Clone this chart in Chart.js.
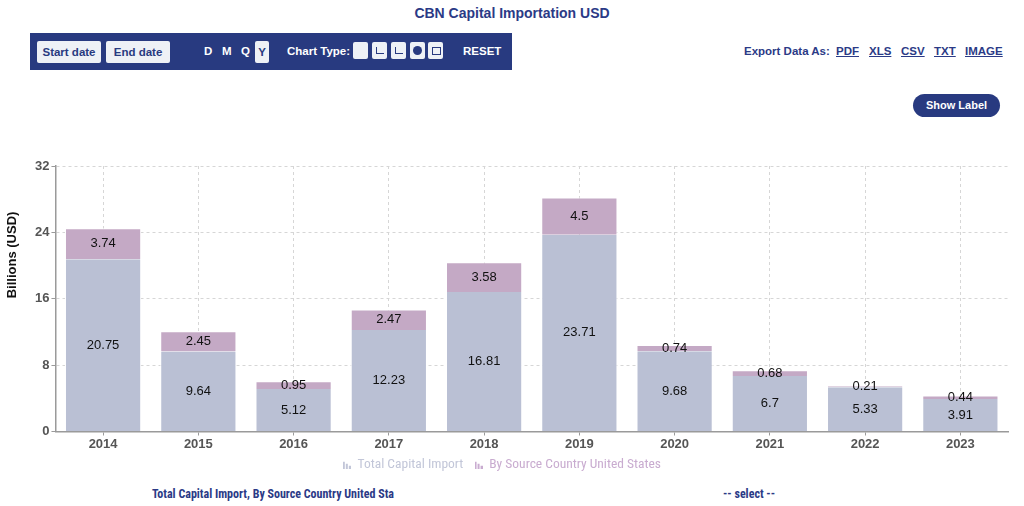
<!DOCTYPE html>
<html>
<head>
<meta charset="utf-8">
<script src="https://cdn.jsdelivr.net/npm/chart.js@4.4.0/dist/chart.umd.min.js"></script>
<style>
  body { margin: 0; width: 1024px; height: 506px; background: #fff; font-family: 'Liberation Sans', Arial, sans-serif; position: relative; overflow: hidden; }
  .title { position: absolute; top: 5px; left: 0; width: 1024px; text-align: center; color: #2b3a86; font-weight: bold; font-size: 14px; }
  .toolbar { position: absolute; left: 30px; top: 33px; width: 482px; height: 37px; background: #283a80; }
  .btn { position: absolute; top: 8px; height: 22px; background: #eef1f6; color: #283a80; font-weight: bold; font-size: 11.5px; line-height: 22px; text-align: center; border-radius: 2px; }
  .tb-text { position: absolute; top: 12px; color: #fff; font-weight: bold; font-size: 11.5px; white-space: nowrap; }
  .ico { position: absolute; top: 9px; width: 15px; height: 17px; background: #eef1f6; border-radius: 2px; }
  .ico i { position: absolute; left: 4px; top: 5px; width: 7px; height: 6px; border-left: 1px solid #283a80; border-bottom: 1px solid #283a80; }
  .ico b { position: absolute; left: 3px; top: 4px; width: 9px; height: 9px; background: #283a80; border-radius: 50%; }
  .export { position: absolute; top: 45px; color: #2b3a86; font-weight: bold; font-size: 11.5px; white-space: nowrap; }
  .showlabel { position: absolute; left: 913px; top: 94px; width: 87px; height: 23px; background: #283a80; color: #fff; border-radius: 12px; font-weight: bold; font-size: 11px; line-height: 23px; text-align: center; }
  .bottom { position: absolute; top: 487px; color: #2b3a86; font-weight: bold; font-size: 12px; font-family: 'Liberation Sans Narrow', 'Roboto Condensed', 'Liberation Sans', sans-serif; }
  .chart-box { position: absolute; left: 0; top: 150px; width: 1024px; height: 331px; }
</style>
</head>
<body>
<div class="title">CBN Capital Importation USD</div>
<div class="toolbar">
  <div class="btn" style="left:7px;width:64px;">Start date</div>
  <div class="btn" style="left:76px;width:64px;">End date</div>
  <div class="tb-text" style="left:174px;">D</div>
  <div class="tb-text" style="left:192px;">M</div>
  <div class="tb-text" style="left:211px;">Q</div>
  <div class="btn" style="left:225px;width:14px;">Y</div>
  <div class="tb-text" style="left:257px;">Chart Type:</div>
  <div class="ico" style="left:323px;"><i style="border:none;"></i></div>
  <div class="ico" style="left:342px;"><i></i></div>
  <div class="ico" style="left:361px;"><i></i></div>
  <div class="ico" style="left:380px;"><b></b></div>
  <div class="ico" style="left:398px;"><i style="border:1px solid #283a80;"></i></div>
  <div class="tb-text" style="left:433px;">RESET</div>
</div>
<div class="export" style="left:744px;">Export Data As:</div>
<div class="export" style="left:836px;"><u>PDF</u></div>
<div class="export" style="left:869px;"><u>XLS</u></div>
<div class="export" style="left:901px;"><u>CSV</u></div>
<div class="export" style="left:934px;"><u>TXT</u></div>
<div class="export" style="left:965px;"><u>IMAGE</u></div>
<div class="showlabel">Show Label</div>
<div class="chart-box"><canvas id="barChart"></canvas></div>
<div class="bottom" style="left:152px;">Total Capital Import, By Source Country United Sta</div>
<div class="bottom" style="left:723px;">-- select --</div>

<script>
const years = ['2014', '2015', '2016', '2017', '2018', '2019', '2020', '2021', '2022', '2023'];
const totalImport = [20.75, 9.64, 5.12, 12.23, 16.81, 23.71, 9.68, 6.7, 5.33, 3.91];
const usImport = [3.74, 2.45, 0.95, 2.47, 3.58, 4.5, 0.74, 0.68, 0.21, 0.44];
const seriesNames = ['Total Capital Import', 'By Source Country United States'];
const seriesColors = ['#bac0d4', '#c4a9c5'];
const legendColors = ['#c2c6d8', '#c9acd0'];
const yTicks = [0, 8, 16, 24, 32];
const yTitle = 'Billions (USD)';

const narrow = "'Liberation Sans Narrow', 'Roboto Condensed', 'Liberation Sans', sans-serif";
const sans = "'Liberation Sans', Arial, sans-serif";

// petit icone "barres" pour la légende
function barIcon(color) {
    const c = document.createElement('canvas');
    c.width = 8; c.height = 9;
    const g = c.getContext('2d');
    g.fillStyle = color;
    g.fillRect(0, 2, 2, 7);
    g.fillRect(3, 4, 2, 5);
    g.fillRect(6, 6, 2, 3);
    return c;
}

// étiquettes au centre de chaque segment
const segmentLabels = {
    id: 'segmentLabels',
    afterDatasetsDraw(chart) {
        const ctx = chart.ctx;
        ctx.save();
        ctx.font = "13px " + sans;
        ctx.fillStyle = '#111';
        ctx.textAlign = 'center';
        ctx.textBaseline = 'middle';
        chart.data.datasets.forEach((ds, i) => {
            chart.getDatasetMeta(i).data.forEach((bar, j) => {
                const p = bar.getProps(['x', 'y', 'base'], true);
                ctx.fillText(String(ds.data[j]), p.x, (p.y + p.base) / 2);
            });
        });
        ctx.restore();
    }
};

// titre de l'axe Y, placé dans le tiers haut comme sur le site
const yAxisTitle = {
    id: 'yAxisTitle',
    afterDraw(chart) {
        const ctx = chart.ctx;
        const area = chart.chartArea;
        ctx.save();
        ctx.translate(12, area.top + area.height * 0.335);
        ctx.rotate(-Math.PI / 2);
        ctx.font = "bold 13px " + sans;
        ctx.fillStyle = '#111';
        ctx.textAlign = 'center';
        ctx.textBaseline = 'middle';
        ctx.fillText(yTitle, 0, 0);
        ctx.restore();
    }
};

Chart.defaults.font.family = narrow;
Chart.defaults.animation = false;

const barCtx = document.getElementById('barChart').getContext('2d');
new Chart(barCtx, {
    type: 'bar',
    data: {
        labels: years,
        datasets: [
            { label: seriesNames[0], data: totalImport, backgroundColor: seriesColors[0], borderColor: '#ffffff', borderWidth: { top: 0, left: 1, right: 1, bottom: 0 } },
            { label: seriesNames[1], data: usImport, backgroundColor: seriesColors[1], borderColor: '#ffffff', borderWidth: { top: 1, left: 1, right: 1, bottom: 0 } }
        ]
    },
    options: {
        responsive: true,
        maintainAspectRatio: false,
        layout: { padding: { top: 16, right: 16, left: 33, bottom: 0 } },
        datasets: { bar: { barPercentage: 0.8, categoryPercentage: 1 } },
        plugins: {
            legend: {
                position: 'bottom',
                labels: {
                    usePointStyle: true,
                    boxWidth: 8,
                    boxHeight: 9,
                    padding: 5,
                    font: { size: 13.5 },
                    // espaces en fin de texte : écart entre les entrées et légende décalée vers la gauche
                    generateLabels: (chart) => chart.data.datasets.map((ds, i) => ({
                        text: i === 0 ? ds.label + '  ' : ds.label + '            ',
                        fontColor: legendColors[i],
                        pointStyle: barIcon(legendColors[i]),
                        datasetIndex: i,
                        hidden: false,
                        lineWidth: 0
                    }))
                }
            },
            tooltip: { enabled: false }
        },
        scales: {
            x: {
                stacked: true,
                grid: { offset: false, color: '#d6d6d6', tickLength: 4, tickColor: '#9a9a9a' },
                border: { display: true, color: '#9a9a9a', width: 1.5, dash: [3, 3] },
                ticks: { color: '#555', font: { size: 13, weight: 'bold', family: sans, lineHeight: 1 }, padding: 2 }
            },
            y: {
                stacked: true,
                min: 0,
                max: 32,
                afterBuildTicks: (axis) => { axis.ticks = yTicks.map(v => ({ value: v })); },
                grid: { color: '#d6d6d6', tickLength: 4, tickColor: '#9a9a9a' },
                border: { display: true, color: '#9a9a9a', width: 1.5, dash: [3, 3] },
                ticks: { color: '#555', font: { size: 13, weight: 'bold', family: sans }, padding: 2 }
            }
        }
    },
    plugins: [segmentLabels, yAxisTitle]
});
</script>
</body>
</html>
